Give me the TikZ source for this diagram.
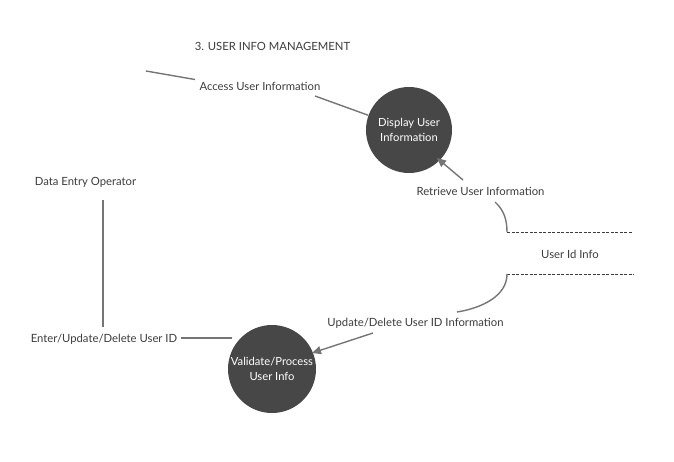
\documentclass[tikz,border=0pt]{standalone}
\usepackage{fontspec}
\setmainfont{Lato}
\usetikzlibrary{arrows.meta}
\definecolor{txt}{HTML}{3c3c3c}
\definecolor{proc}{HTML}{474747}
\definecolor{ln}{HTML}{757575}
\tikzset{
  lbl/.style={text=txt, font=\fontsize{11.3}{13}\selectfont, inner sep=1pt},
  procnode/.style={circle, fill=proc, minimum size=86pt, inner sep=0pt, text=white, align=center, font=\fontsize{11.2}{14.5}\selectfont},
  flow/.style={draw=ln, line width=1.4pt},
  flowarr/.style={flow, -{Triangle[length=9pt,width=8pt]}},
  storeline/.style={draw=txt, line width=0.9pt, dash pattern=on 3pt off 1.5pt}
}
\begin{document}
\begin{tikzpicture}[x=1pt,y=-1pt]
\useasboundingbox (0,0) rectangle (674,461);
\node[lbl] (title) at (272.5,46) {3. USER INFO MANAGEMENT};
\node[procnode] (disp) at (409,130) {Display User\\Information};
\node[procnode, minimum size=88pt] (valid) at (272,369) {Validate/Process\\User Info};
\node[lbl] (access) at (260,86) {Access User Information};
\node[lbl] (retr) at (480.5,191) {Retrieve User Information};
\node[lbl] (uid) at (570,254) {User Id Info};
\node[lbl] (upd) at (415.5,323) {Update/Delete User ID Information};
\node[lbl] (enter) at (104,339) {Enter/Update/Delete User ID};
\node[lbl] (deo) at (85.5,182) {Data Entry Operator};
\coordinate (accstart) at (146,71);
\coordinate (accend) at (195,79.5);
\coordinate (accstart2) at (315,96);
\coordinate (retrstart) at (463,180);
\coordinate (c1) at (495,202);
\coordinate (s1a) at (507,232);
\coordinate (s1b) at (632,232);
\coordinate (s2a) at (507,274);
\coordinate (s2b) at (634,274);
\coordinate (c2) at (457,312);
\coordinate (updstart) at (373,333);
\coordinate (deotop) at (103,200);
\coordinate (deobot) at (103,327);
\coordinate (enterend) at (181,338);
% flows
\draw[flow] (accstart) -- (accend);
\draw[flow] (accstart2) -- (disp);
\draw[flowarr] (retrstart) -- (437,158);
\draw[flow] (c1) .. controls (504,210) and (507,220) .. (s1a);
\draw[storeline] (s1a) -- (s1b);
\draw[storeline] (s2a) -- (s2b);
\draw[flow] (s2a) .. controls (507,296) and (482,308) .. (c2);
\draw[flowarr] (updstart) -- (312,353);
\draw[flow] (deotop) -- (deobot);
\draw[flow] (enterend) -- (valid.west |- enterend) -- ++(4,0);
\end{tikzpicture}
\end{document}
